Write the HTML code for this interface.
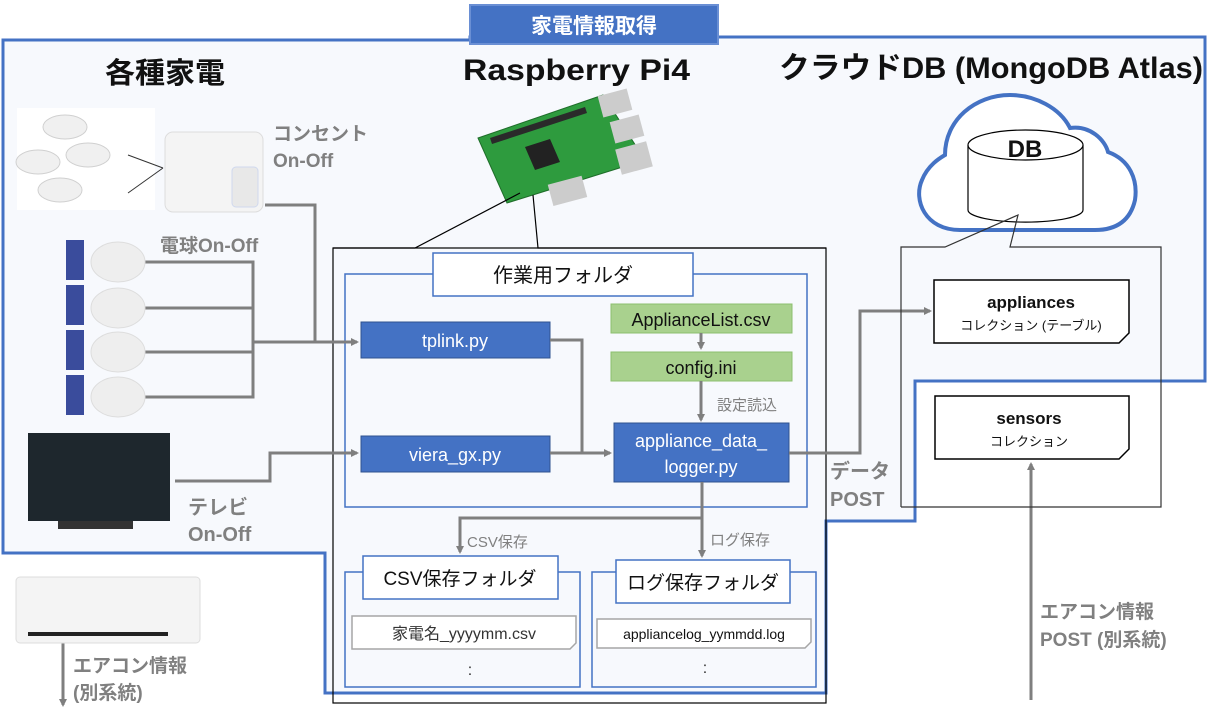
<!DOCTYPE html>
<html><head><meta charset="utf-8"><style>
body{margin:0;background:#fff}
svg{display:block}
text{font-family:"Liberation Sans","Noto Sans CJK JP",sans-serif}
</style></head><body>
<svg width="1226" height="720" viewBox="0 0 1226 720" xmlns="http://www.w3.org/2000/svg">
<defs>
<marker id="ar" markerWidth="8" markerHeight="8" refX="6" refY="4" orient="auto" markerUnits="userSpaceOnUse"><path d="M0,0 L8,4 L0,8 Z" fill="#7f7f7f"/></marker>
</defs>
<path d="M3,40 L470,40 L470,37 L1205,37 L1205,381 L915,381 L915,521 L826,521 L826,693 L325,693 L325,553 L3,553 Z" fill="#f7f9fd" stroke="#4472c4" stroke-width="3"/>
<rect x="470" y="5" width="248" height="39" fill="#4472c4" stroke="#6a8fd4" stroke-width="2"/>
<text x="594" y="33" font-size="21" font-weight="bold" fill="#fff" text-anchor="middle">家電情報取得</text>

<text x="105" y="83" font-size="29" font-weight="bold" fill="#111" textLength="120" lengthAdjust="spacingAndGlyphs">各種家電</text>
<text x="463" y="80" font-size="30" font-weight="bold" fill="#111" textLength="227" lengthAdjust="spacingAndGlyphs">Raspberry Pi4</text>
<text x="779" y="78" font-size="30" font-weight="bold" fill="#111" textLength="424" lengthAdjust="spacingAndGlyphs">クラウドDB (MongoDB Atlas)</text>

<polygon points="478,138 603,95 645,160 507,203" fill="#2e9b3e" stroke="#1f6e2a" stroke-width="1"/>
<polygon points="490,138 585,107 587,113 492,144" fill="#2a2a2a"/>
<polygon points="525,147 550,139 560,162 535,170" fill="#222"/>
<rect x="600" y="92" width="30" height="22" fill="#ccc" transform="rotate(-15 615 103)"/>
<rect x="612" y="118" width="30" height="22" fill="#ccc" transform="rotate(-15 627 129)"/>
<rect x="618" y="145" width="32" height="26" fill="#ccc" transform="rotate(-15 634 158)"/>
<rect x="550" y="180" width="35" height="22" fill="#ccc" transform="rotate(-15 567 191)"/>
<polyline points="333,248 415,248 520,193" fill="none" stroke="#000" stroke-width="1.2"/>
<polyline points="533,195 538,248 826,248" fill="none" stroke="#000" stroke-width="1.2"/>
<rect x="333" y="248" width="493" height="455" fill="none" stroke="#000" stroke-width="1.2"/>

<rect x="345" y="274" width="462" height="233" fill="none" stroke="#4472c4" stroke-width="1.5"/>
<rect x="433" y="253" width="260" height="43" fill="#fff" stroke="#4472c4" stroke-width="1.5"/>
<text x="563" y="282" font-size="20" text-anchor="middle" fill="#111">作業用フォルダ</text>
<rect x="361" y="322" width="189" height="36" fill="#4472c4" stroke="#2f528f"/>
<text x="455" y="347" font-size="18" text-anchor="middle" fill="#fff">tplink.py</text>
<rect x="361" y="436" width="189" height="36" fill="#4472c4" stroke="#2f528f"/>
<text x="455" y="461" font-size="18" text-anchor="middle" fill="#fff">viera_gx.py</text>
<rect x="611" y="304" width="181" height="29" fill="#a9d18e" stroke="#8cbf6e"/>
<text x="701" y="326" font-size="18" text-anchor="middle" fill="#111">ApplianceList.csv</text>
<rect x="611" y="352" width="181" height="29" fill="#a9d18e" stroke="#8cbf6e"/>
<text x="701" y="374" font-size="18" text-anchor="middle" fill="#111">config.ini</text>
<rect x="614" y="423" width="175" height="59" fill="#4472c4" stroke="#2f528f"/>
<text x="701" y="447" font-size="18" text-anchor="middle" fill="#fff">appliance_data_</text>
<text x="701" y="473" font-size="18" text-anchor="middle" fill="#fff">logger.py</text>
<text x="717" y="410" font-size="15" fill="#808080">設定読込</text>

<g stroke="#7f7f7f" stroke-width="3" fill="none">
<line x1="701" y1="333" x2="701" y2="348" marker-end="url(#ar)"/>
<line x1="701" y1="381" x2="701" y2="420" marker-end="url(#ar)"/>
<polyline points="550,340 582,340 582,453"/>
<line x1="550" y1="453" x2="610" y2="453" marker-end="url(#ar)"/>
<polyline points="702,482 702,518 460,518 460,552" marker-end="url(#ar)"/>
<line x1="702" y1="518" x2="702" y2="556" marker-end="url(#ar)"/>
<polyline points="789,453 860,453 860,311 930,311" marker-end="url(#ar)"/>
<line x1="1031" y1="700" x2="1031" y2="464" marker-end="url(#ar)"/>
<polyline points="265,205 315,205 315,342"/>
<polyline points="145,262 253,262 253,397 145,397"/>
<line x1="145" y1="308" x2="253" y2="308"/>
<line x1="145" y1="352" x2="253" y2="352"/>
<line x1="253" y1="342" x2="357" y2="342" marker-end="url(#ar)"/>
<polyline points="175,481 270,481 270,453 357,453" marker-end="url(#ar)"/>
<line x1="63" y1="643" x2="63" y2="705" marker-end="url(#ar)"/>
</g>
<text x="467" y="547" font-size="15" fill="#808080">CSV保存</text>
<text x="710" y="545" font-size="15" fill="#808080">ログ保存</text>

<rect x="345" y="572" width="235" height="115" fill="none" stroke="#4472c4" stroke-width="1.5"/>
<rect x="363" y="556" width="195" height="43" fill="#fff" stroke="#4472c4" stroke-width="1.5"/>
<text x="460" y="585" font-size="19" text-anchor="middle" fill="#111">CSV保存フォルダ</text>
<path d="M352,616 L576,616 L576,643 L570,649 L352,649 Z" fill="#fff" stroke="#a6a6a6" stroke-width="1.5"/>
<text x="464" y="639" font-size="16" text-anchor="middle" fill="#333">家電名_yyyymm.csv</text>
<text x="470" y="675" font-size="16" text-anchor="middle" fill="#333">:</text>
<rect x="592" y="572" width="224" height="115" fill="none" stroke="#4472c4" stroke-width="1.5"/>
<rect x="616" y="560" width="174" height="43" fill="#fff" stroke="#4472c4" stroke-width="1.5"/>
<text x="703" y="589" font-size="19" text-anchor="middle" fill="#111">ログ保存フォルダ</text>
<path d="M597,619 L811,619 L811,642 L805,648 L597,648 Z" fill="#fff" stroke="#a6a6a6" stroke-width="1.5"/>
<text x="704" y="639" font-size="14" text-anchor="middle" fill="#111">appliancelog_yymmdd.log</text>
<text x="705" y="673" font-size="16" text-anchor="middle" fill="#333">:</text>

<path d="M960,230 C925,230 913,200 922,180 C928,165 940,158 945,155 C945,120 975,95 1010,95 C1035,95 1060,108 1070,128 C1090,125 1105,140 1108,152 C1130,160 1138,180 1135,200 C1130,222 1115,230 1095,230 Z" fill="#fff" stroke="#4472c4" stroke-width="4"/>
<path d="M968,145 L968,210 A57,12 0 0 0 1083,210 L1083,145" fill="#fff" stroke="#000" stroke-width="1.2"/>
<ellipse cx="1025.5" cy="145" rx="57.5" ry="15" fill="#fff" stroke="#000" stroke-width="1.2"/>
<text x="1025" y="157" font-size="24" font-weight="bold" text-anchor="middle" fill="#111">DB</text>
<polyline points="901,507 901,247 945,247 1018,215 1010,247 1161,247 1161,507 901,507" fill="none" stroke="#333" stroke-width="1.2"/>
<path d="M934,280 L1129,280 L1129,333 L1119,343 L934,343 Z" fill="#fff" stroke="#000" stroke-width="1.5"/>
<text x="1031" y="308" font-size="17" font-weight="bold" text-anchor="middle" fill="#111">appliances</text>
<text x="1031" y="330" font-size="13" text-anchor="middle" fill="#111">コレクション (テーブル)</text>
<path d="M935,396 L1129,396 L1129,449 L1119,459 L935,459 Z" fill="#fff" stroke="#000" stroke-width="1.5"/>
<text x="1029" y="424" font-size="17" font-weight="bold" text-anchor="middle" fill="#111">sensors</text>
<text x="1029" y="446" font-size="13" text-anchor="middle" fill="#111">コレクション</text>
<text x="830" y="478" font-size="20" font-weight="bold" fill="#808080">データ</text>
<text x="830" y="506" font-size="20" font-weight="bold" fill="#808080">POST</text>
<text x="1040" y="618" font-size="19" font-weight="bold" fill="#808080">エアコン情報</text>
<text x="1040" y="646" font-size="19" font-weight="bold" fill="#808080">POST (別系統)</text>

<rect x="17" y="108" width="138" height="102" fill="#fff"/>
<g fill="#f0f0f0" stroke="#d0d0d0">
<ellipse cx="65" cy="127" rx="22" ry="12"/><ellipse cx="38" cy="162" rx="22" ry="12"/>
<ellipse cx="88" cy="155" rx="22" ry="12"/><ellipse cx="60" cy="190" rx="22" ry="12"/>
</g>
<line x1="128" y1="193" x2="163" y2="168" stroke="#333"/>
<line x1="128" y1="155" x2="163" y2="168" stroke="#333"/>
<rect x="165" y="132" width="98" height="80" rx="8" fill="#f4f4f4" stroke="#ddd"/>
<rect x="232" y="167" width="26" height="40" rx="4" fill="#e8e8e8" stroke="#cfd8ee"/>
<text x="273" y="140" font-size="19" font-weight="bold" fill="#808080">コンセント</text>
<text x="273" y="167" font-size="19" font-weight="bold" fill="#808080">On-Off</text>
<text x="160" y="252" font-size="19" font-weight="bold" fill="#808080">電球On-Off</text>
<g>
<rect x="66" y="240" width="18" height="40" fill="#3a4c9c"/><ellipse cx="118" cy="262" rx="27" ry="20" fill="#eee" stroke="#ddd"/>
<rect x="66" y="285" width="18" height="40" fill="#3a4c9c"/><ellipse cx="118" cy="308" rx="27" ry="20" fill="#eee" stroke="#ddd"/>
<rect x="66" y="330" width="18" height="40" fill="#3a4c9c"/><ellipse cx="118" cy="352" rx="27" ry="20" fill="#eee" stroke="#ddd"/>
<rect x="66" y="375" width="18" height="40" fill="#3a4c9c"/><ellipse cx="118" cy="397" rx="27" ry="20" fill="#eee" stroke="#ddd"/>
</g>
<rect x="28" y="433" width="142" height="88" fill="#1e272d"/>
<rect x="58" y="521" width="75" height="8" fill="#333"/>
<text x="188" y="514" font-size="20" font-weight="bold" fill="#808080">テレビ</text>
<text x="188" y="541" font-size="20" font-weight="bold" fill="#808080">On-Off</text>
<rect x="16" y="577" width="184" height="66" rx="4" fill="#f4f4f4" stroke="#ddd"/>
<rect x="28" y="632" width="140" height="4" fill="#222"/>
<text x="73" y="672" font-size="19" font-weight="bold" fill="#808080">エアコン情報</text>
<text x="73" y="699" font-size="19" font-weight="bold" fill="#808080">(別系統)</text>
</svg>
</body></html>
